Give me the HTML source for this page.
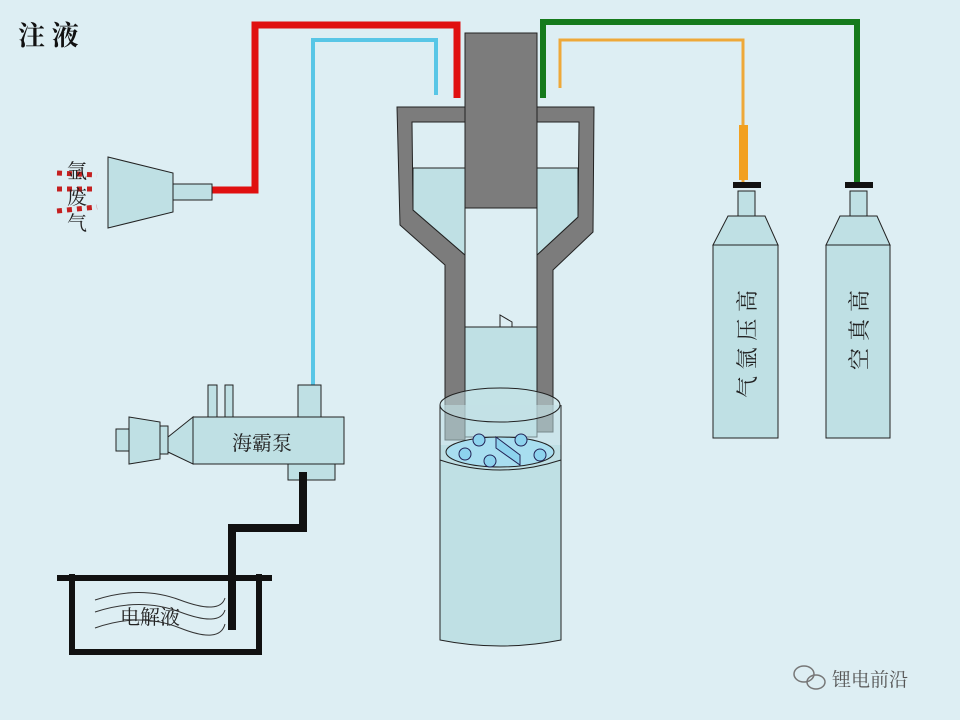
<!DOCTYPE html><html><head><meta charset="utf-8"><style>body{margin:0}svg{display:block}text{font-family:"Liberation Serif","Noto Serif CJK SC",serif}</style></head><body>
<svg width="960" height="720" viewBox="0 0 960 720" xmlns="http://www.w3.org/2000/svg">
<rect width="960" height="720" fill="#ddeef3"/>
<text x="18" y="45" font-size="27" font-weight="bold" fill="#111">注 液</text>
<polyline points="203,190 255,190 255,25 457,25 457,98" fill="none" stroke="#e01010" stroke-width="7"/>
<polyline points="313,400 313,40 436,40 436,95" fill="none" stroke="#58c6e6" stroke-width="4"/>
<polyline points="543,98 543,22 857,22 857,186" fill="none" stroke="#157a1c" stroke-width="6"/>
<polyline points="560,88 560,40 743,40 743,183" fill="none" stroke="#eea838" stroke-width="3"/>
<rect x="739" y="125" width="9" height="55" fill="#f2a020"/>
<path d="M397,107 L594,107 L593,232 L553,270 L553,432 L537,432 L537,255 L578,217 L579,122 L537,122 L537,120 L465,120 L465,122 L412,122 L413,210 L465,255 L465,440 L445,440 L445,265 L400,225 Z" fill="#7c7c7c" stroke="#222" stroke-width="1"/>
<path d="M413,168 L465,168 L465,255 L413,210 Z" fill="#bfe0e4" stroke="#222"/>
<path d="M537,168 L578,168 L578,217 L537,255 Z" fill="#bfe0e4" stroke="#222"/>
<rect x="465" y="327" width="72" height="110" fill="#bfe0e4" stroke="#222"/>
<path d="M500,327 L500,315 L512,322 L512,327" fill="none" stroke="#222"/>
<rect x="465" y="33" width="72" height="175" fill="#7c7c7c" stroke="#222"/>
<path d="M440,445 L440,640 Q500,652 561,640 L561,445" fill="#bfe0e4" stroke="#222"/>
<path d="M440,405 L440,460 Q500,480 561,460 L561,405" fill="rgba(190,222,228,0.55)" stroke="#222"/>
<ellipse cx="500" cy="405" rx="60" ry="17" fill="rgba(200,228,232,0.5)" stroke="#222"/>
<ellipse cx="500" cy="452" rx="54" ry="15" fill="#a8def0" stroke="#222"/>
<g fill="#8dd3ee" stroke="#225" stroke-width="1"><circle cx="479" cy="440" r="6"/><circle cx="521" cy="440" r="6"/><circle cx="465" cy="454" r="6"/><circle cx="490" cy="461" r="6"/><circle cx="540" cy="455" r="6"/><path d="M496,437 L520,455 L520,465 L496,448 Z"/></g>
<path d="M108,157 L173,173 L173,212 L108,228 Z" fill="#bfe0e4" stroke="#222"/>
<rect x="173" y="184" width="39" height="16" fill="#bfe0e4" stroke="#222"/>
<g stroke="#c42020" stroke-width="5" stroke-dasharray="5,5"><line x1="57" y1="173" x2="97" y2="175"/><line x1="57" y1="189" x2="97" y2="189"/><line x1="57" y1="211" x2="97" y2="207"/></g>
<g font-size="20" fill="#222"><text x="67" y="178">氩</text><text x="67" y="204">废</text><text x="67" y="230">气</text></g>
<rect x="208" y="385" width="9" height="32" fill="#bfe0e4" stroke="#222"/>
<rect x="225" y="385" width="8" height="32" fill="#bfe0e4" stroke="#222"/>
<rect x="298" y="385" width="23" height="32" fill="#bfe0e4" stroke="#222"/>
<rect x="288" y="464" width="47" height="16" fill="#bfe0e4" stroke="#222"/>
<rect x="116" y="429" width="13" height="22" fill="#bfe0e4" stroke="#222"/>
<path d="M129,417 L160,422 L160,459 L129,464 Z" fill="#bfe0e4" stroke="#222"/>
<rect x="160" y="426" width="8" height="28" fill="#bfe0e4" stroke="#222"/>
<path d="M168,437 L193,417 L193,464 L168,452 Z" fill="#bfe0e4" stroke="#222"/>
<rect x="193" y="417" width="151" height="47" fill="#bfe0e4" stroke="#222"/>
<text x="232" y="450" font-size="20" fill="#222">海霸泵</text>
<polyline points="303,472 303,528 232,528 232,630" fill="none" stroke="#111" stroke-width="8"/>
<line x1="57" y1="578" x2="272" y2="578" stroke="#111" stroke-width="6"/>
<polyline points="72,574 72,652 259,652 259,574" fill="none" stroke="#111" stroke-width="6"/>
<g fill="none" stroke="#333" stroke-width="1"><path d="M95,600 Q140,585 180,600 T225,598"/><path d="M95,612 Q140,597 180,612 T225,610"/><path d="M95,628 Q140,612 180,628 T225,624"/></g>
<text x="120" y="624" font-size="20" fill="#222">电解液</text>
<g fill="#bfe0e4" stroke="#222">
<rect x="738" y="191" width="17" height="25"/><path d="M728,216 L765,216 L778,245 L713,245 Z"/><rect x="713" y="245" width="65" height="193"/>
<rect x="850" y="191" width="17" height="25"/><path d="M840,216 L877,216 L890,245 L826,245 Z"/><rect x="826" y="245" width="64" height="193"/>
</g>
<rect x="733" y="182" width="28" height="6" fill="#111"/><rect x="845" y="182" width="28" height="6" fill="#111"/>
<text transform="translate(755,398) rotate(-90)" font-size="22" fill="#222" textLength="108">气氩压高</text>
<text transform="translate(867,370) rotate(-90)" font-size="22" fill="#222" textLength="80">空真高</text>
<g fill="none" stroke="#777" stroke-width="1.5"><ellipse cx="804" cy="674" rx="10" ry="8"/><ellipse cx="816" cy="682" rx="9" ry="7"/></g>
<text x="832" y="686" font-size="19" fill="#555" font-family="Liberation Sans,Noto Sans CJK SC,sans-serif">锂电前沿</text>
</svg></body></html>
